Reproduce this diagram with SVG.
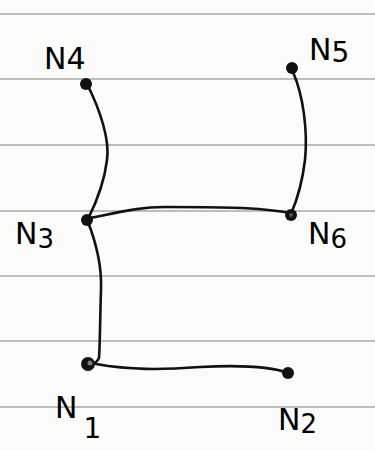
<svg xmlns="http://www.w3.org/2000/svg" width="375" height="450" viewBox="0 0 375 450">
<style>
.rule{stroke:#a8a8a8;stroke-width:1.6}
.edge{fill:none;stroke:#111;stroke-width:2.6;stroke-linecap:round}
.node{fill:#111}
.lbl{font-family:"DejaVu Sans",sans-serif;font-size:30px;fill:#000;font-weight:normal}
</style>
<rect width="375" height="450" fill="#fbfbfa"/>
<g id="paper">
<line class="rule" x1="0" y1="14" x2="375" y2="14"/>
<line class="rule" x1="0" y1="79" x2="375" y2="79"/>
<line class="rule" x1="0" y1="145" x2="375" y2="145"/>
<line class="rule" x1="0" y1="211" x2="375" y2="211"/>
<line class="rule" x1="0" y1="276" x2="375" y2="276"/>
<line class="rule" x1="0" y1="341" x2="375" y2="341"/>
<line class="rule" x1="0" y1="407" x2="375" y2="407"/>
</g>
<g id="connectors">
<path class="edge" d="M88,86 C100,110 110,140 107,160 C104,185 95,205 88,219"/>
<path class="edge" d="M293,72 C303,95 308,130 305,160 C302,185 297,200 291,214"/>
<path class="edge" d="M90,218 C120,212 140,207 165,207 C210,207 260,207 290,213"/>
<path class="edge" d="M88,222 C95,240 102,265 101,290 C100,320 100,345 99,358 C97,362 95,363 93,363"/>
<path class="edge" d="M96,364 C130,370 160,370 200,367 C240,365 270,366 288,373"/>
</g>
<g id="N4"><circle class="node" cx="86" cy="84" r="6"/><text class="lbl" x="44" y="69">N4</text></g>
<g id="N5"><circle class="node" cx="292" cy="68" r="6"/><text class="lbl" x="309" y="60">N<tspan font-size="28" dy="2">5</tspan></text></g>
<g id="N3"><circle class="node" cx="87" cy="220" r="6"/><text class="lbl" x="15" y="244">N<tspan dy="4" font-size="26">3</tspan></text></g>
<g id="N6"><circle class="node" cx="291" cy="215" r="6"/><circle cx="291" cy="215" r="2" fill="#555"/><text class="lbl" x="308" y="244">N<tspan dy="4" font-size="26">6</tspan></text></g>
<g id="N1"><circle class="node" cx="88" cy="364" r="7"/><circle cx="90" cy="363" r="2.5" fill="#777"/><text class="lbl" x="55" y="418">N<tspan dx="6" dy="20" font-size="28">1</tspan></text></g>
<g id="N2"><circle class="node" cx="288" cy="373" r="6"/><text class="lbl" x="278" y="430">N<tspan dy="3" font-size="26">2</tspan></text></g>
</svg>
